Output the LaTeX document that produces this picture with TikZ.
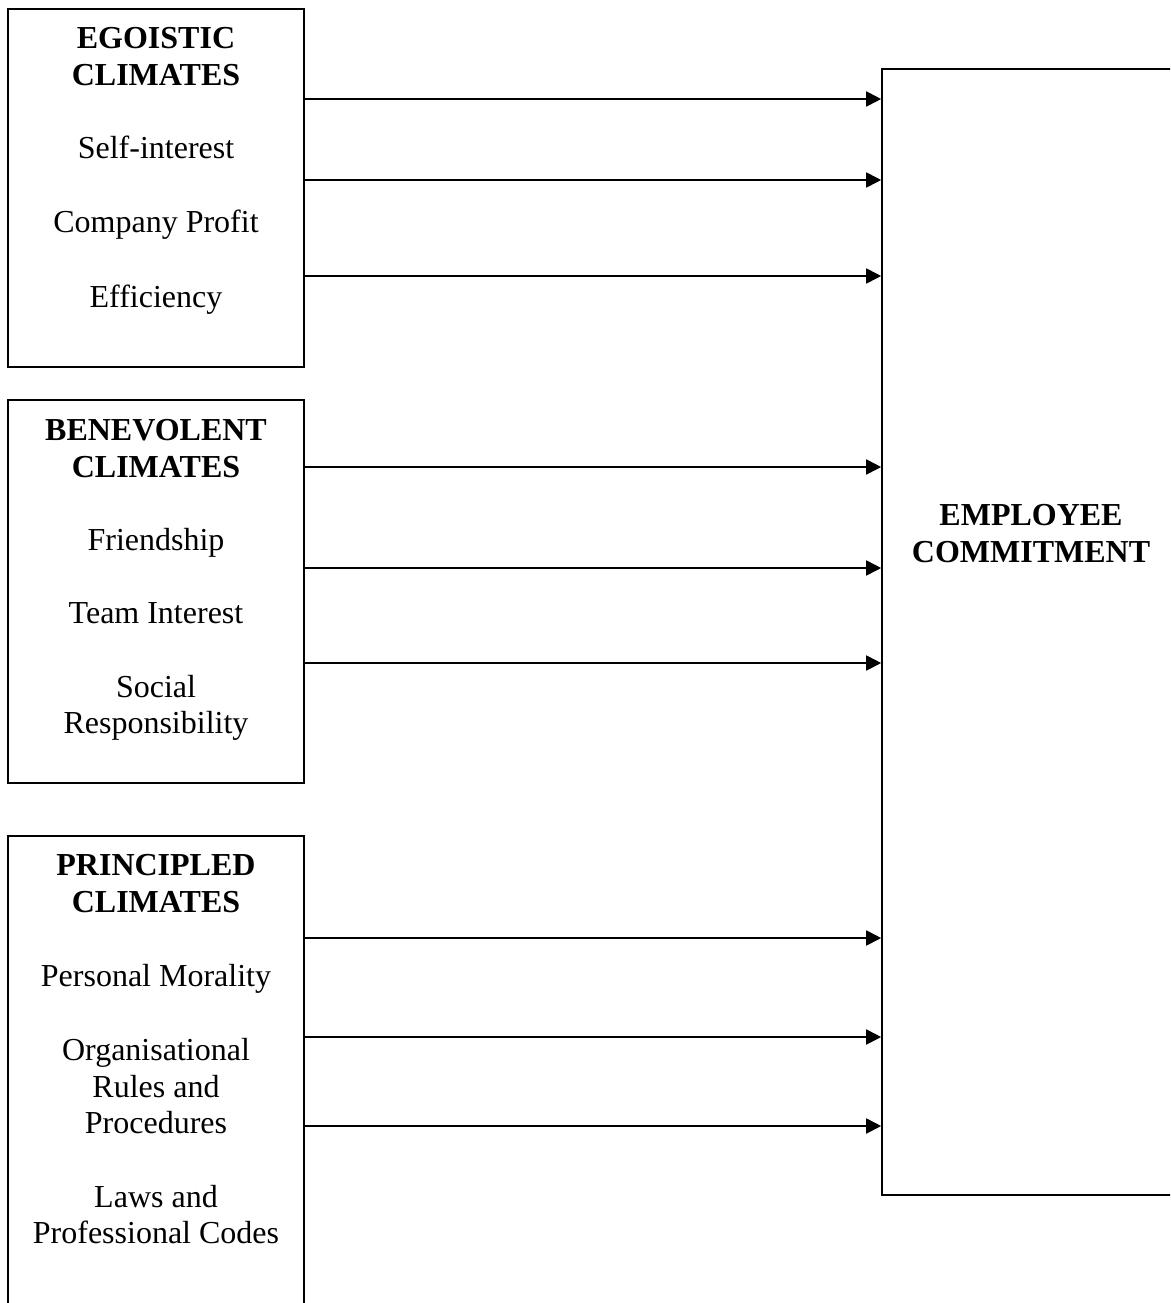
\documentclass[tikz,border=0pt]{standalone}
\usepackage{fontspec}
\setmainfont{Liberation Serif}
\usetikzlibrary{arrows.meta}
\begin{document}
\begin{tikzpicture}[x=1pt,y=-1pt,
  box/.style={draw, line width=1.6pt, rectangle, inner sep=0pt},
  line/.style={anchor=base, inner sep=0pt, font=\fontsize{32}{37}\selectfont},
  head/.style={line, font=\fontsize{32}{37}\selectfont\bfseries},
  arr/.style={line width=1.8pt, -{Triangle[length=15pt,width=15pt]}}]
\useasboundingbox (0,0) rectangle (1170,1303);
\clip (0,0) rectangle (1170,1303);

% frames
\node[box, minimum width=296pt, minimum height=358pt] (ego) at (156,188) {};
\node[box, minimum width=296pt, minimum height=383pt] (ben) at (156,591.5) {};
\node[box, minimum width=296pt, minimum height=500pt] (pri) at (156,1086) {};
\node[box, minimum width=296pt, minimum height=1126pt] (emp) at (1030,632) {};

% egoistic climates
\node[head] (egoA) at (156,49) {EGOISTIC};
\node[head] (egoB) at (156,86) {CLIMATES};
\node[line] (ego1) at (156,158) {Self-interest};
\node[line] (ego2) at (156,232) {Company Profit};
\node[line] (ego3) at (156,307) {Efficiency};

% benevolent climates
\node[head] (benA) at (156,440) {BENEVOLENT};
\node[head] (benB) at (156,477) {CLIMATES};
\node[line] (ben1) at (156,550) {Friendship};
\node[line] (ben2) at (156,623) {Team Interest};
\node[line] (ben3a) at (156,697) {Social};
\node[line] (ben3b) at (156,733) {Responsibility};

% principled climates
\node[head] (priA) at (156,875) {PRINCIPLED};
\node[head] (priB) at (156,912) {CLIMATES};
\node[line] (pri1) at (156,986) {Personal Morality};
\node[line] (pri2a) at (156,1060) {Organisational};
\node[line] (pri2b) at (156,1097) {Rules and};
\node[line] (pri2c) at (156,1133) {Procedures};
\node[line] (pri3a) at (156,1207) {Laws and};
\node[line] (pri3b) at (156,1243) {Professional Codes};

% outcome
\node[head] (empA) at (1031,525) {EMPLOYEE};
\node[head] (empB) at (1031,562) {COMMITMENT};

% links
\foreach \y in {99,180,276} \draw[arr] (ego.east |- 0,\y) -- (emp.west |- 0,\y);
\foreach \y in {467,568,663} \draw[arr] (ben.east |- 0,\y) -- (emp.west |- 0,\y);
\foreach \y in {938,1037,1126} \draw[arr] (pri.east |- 0,\y) -- (emp.west |- 0,\y);
\end{tikzpicture}
\end{document}
